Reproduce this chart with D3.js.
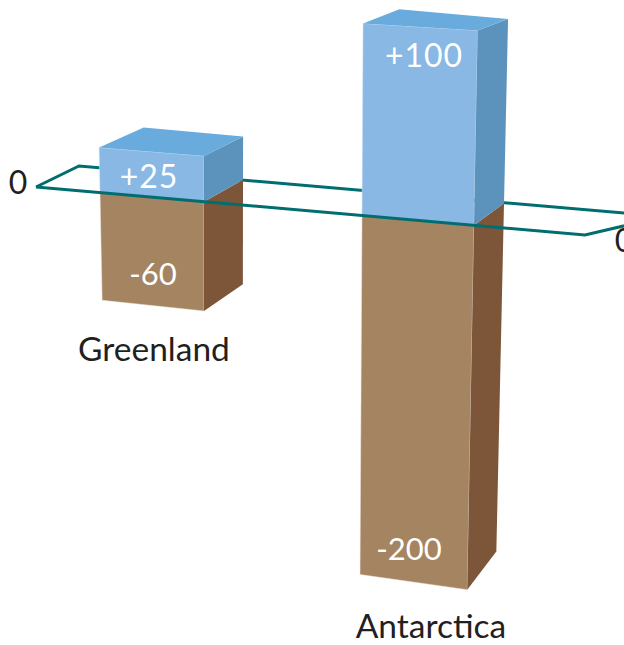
<!DOCTYPE html>
<html>
<head>
<meta charset="utf-8">
<style>
  html, body { margin: 0; padding: 0; background: #fff; }
  svg { display: block; }
  text { font-family: Lato, "Open Sans", sans-serif; }
</style>
<script src="https://cdn.jsdelivr.net/npm/d3@7"></script>
</head>
<body>
<svg id="chart" width="624" height="645"></svg>
<script>
// Ice-sheet mass balance: gain above the zero plane, loss below it.
const regions = ["Greenland", "Antarctica"];
const gains = [25, 100];
const losses = [-60, -200];
const planeLabels = ["0", "0"];

// Bar placement on the tilted zero plane.
const frontLeft = [100, 362];
const frontWidth = [104, 112];
const depthShift = [39, 30];
const gainLabelPos = [[149, 188], [424, 67]];
const lossLabelPos = [[153, 285], [409, 560]];
const nameLabelPos = [[154, 361], [431, 637.5]];

const colors = {
  gainFront: "#88b8e3", gainSide: "#5c93bc", gainTop: "#6aabde",
  lossFront: "#a58462", lossSide: "#7d5538",
  plane: "#006e70", ink: "#231f20"
};

const svg = d3.select("#chart");

// Front edge of the plane, running slightly downhill to the right.
const planeY = d3.scaleLinear().domain([36, 585]).range([187, 235]);
const depthRise = 22;

// Value to vertical pixel offset from the plane.
const y = d3.scaleLinear().domain([-200, 0, 25, 100]).range([359, 0, -45, -192]);

// Verticals converge slightly depending on their position across the page.
const lean = d3.scaleLinear().domain([100, 204, 362, 504]).range([0.02, 0, -0.0055, -0.022]);

const frontRightScale = 1.015;
const backScaleUp = 0.96;
const backScaleDown = 0.97;
const backWidthRatio = 0.95;

function corners(i) {
  const fl = frontLeft[i], fr = fl + frontWidth[i];
  const br = fr + depthShift[i];
  const bl = br - frontWidth[i] * backWidthRatio;
  return {
    fl: { x: fl, y: planeY(fl), up: 1, down: 1 },
    fr: { x: fr, y: planeY(fr), up: frontRightScale, down: frontRightScale },
    br: { x: br, y: planeY(fr) - depthRise, up: backScaleUp, down: backScaleDown },
    bl: { x: bl, y: planeY(fl) - depthRise, up: backScaleUp, down: backScaleDown }
  };
}

function at(corner, value) {
  const dy = y(value) * (value > 0 ? corner.up : corner.down);
  return [corner.x + lean(corner.x) * dy, corner.y + dy];
}

const outline = d3.line();
const face = pts => outline(pts) + "Z";

// Far edge of the plane sits behind the bars.
const planeCorners = [[36, planeY(36)], [79, 166], [664, 216.5], [585, planeY(585)]];
svg.append("path")
  .attr("d", outline(planeCorners.slice(0, 3)))
  .attr("fill", "none").attr("stroke", colors.plane).attr("stroke-width", 3);

const bars = svg.selectAll("g.bar").data(regions).join("g").attr("class", "bar");

bars.each(function (name, i) {
  const g = d3.select(this), c = corners(i), up = gains[i], down = losses[i];
  g.append("path").attr("fill", colors.lossFront).attr("stroke", "#efe6dc").attr("stroke-width", 0.5)
    .attr("d", face([at(c.fl, 0), at(c.fr, 0), at(c.fr, down), at(c.fl, down)]));
  g.append("path").attr("fill", colors.lossSide)
    .attr("d", face([at(c.fr, 0), at(c.br, 0), at(c.br, down), at(c.fr, down)]));
  g.append("path").attr("fill", colors.gainFront).attr("stroke", "#cfe2f3").attr("stroke-width", 0.5)
    .attr("d", face([at(c.fl, up), at(c.fr, up), at(c.fr, 0), at(c.fl, 0)]));
  g.append("path").attr("fill", colors.gainSide)
    .attr("d", face([at(c.fr, up), at(c.br, up), at(c.br, 0), at(c.fr, 0)]));
  g.append("path").attr("fill", colors.gainTop)
    .attr("d", face([at(c.bl, up), at(c.br, up), at(c.fr, up), at(c.fl, up)]));
});

// Near edges of the plane cross in front of the bars.
svg.append("path")
  .attr("d", outline([planeCorners[0], planeCorners[3], planeCorners[2]]))
  .attr("fill", "none").attr("stroke", colors.plane).attr("stroke-width", 3);

const signed = d3.format("+d");
const valueText = v => signed(v).replace("\u2212", "-");

function addText(content, pos, size, fill, spacing) {
  svg.append("text").attr("x", pos[0]).attr("y", pos[1])
    .attr("text-anchor", "middle")
    .attr("letter-spacing", spacing || 0)
    .attr("font-size", size).attr("fill", fill).text(content);
}

regions.forEach((name, i) => {
  addText(valueText(gains[i]), gainLabelPos[i], 32, "#fff", 1);
  addText(valueText(losses[i]), lossLabelPos[i], 31, "#fff");
  addText(name, nameLabelPos[i], 33.5, colors.ink);
});

addText(planeLabels[0], [18, 194], 32, colors.ink);
addText(planeLabels[1], [624, 252], 32, colors.ink);
</script>
</body>
</html>
